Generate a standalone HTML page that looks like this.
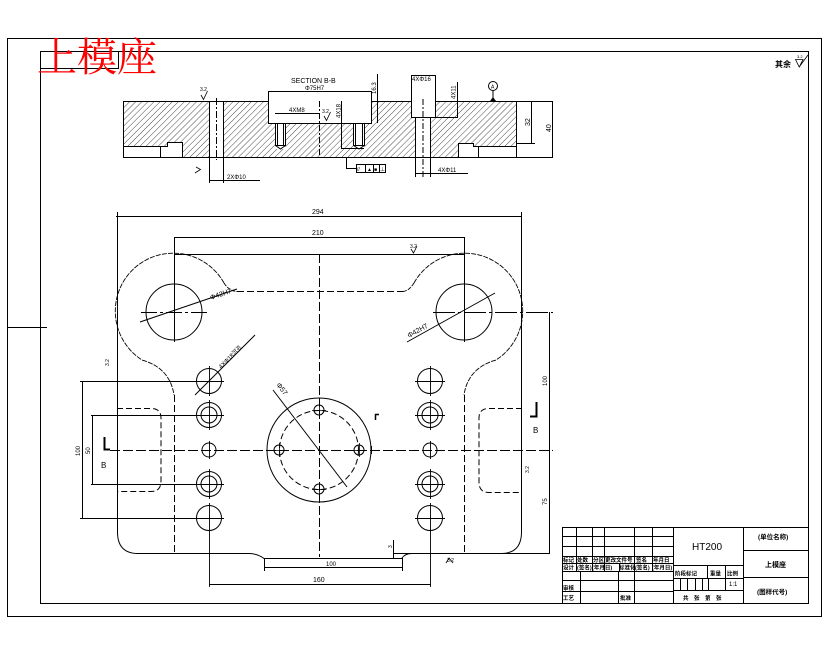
<!DOCTYPE html>
<html><head><meta charset="utf-8"><style>
html,body{margin:0;padding:0;background:#fff;}
svg{display:block}
text{font-family:"Liberation Sans","Noto Sans CJK SC",sans-serif;fill:#000;stroke:none}
.c{font-family:"Liberation Sans","Noto Sans CJK SC",sans-serif;font-weight:bold}
</style></head><body>
<svg width="830" height="654" viewBox="0 0 830 654" xmlns="http://www.w3.org/2000/svg">
<defs>
<pattern id="h" width="4.3" height="10" patternUnits="userSpaceOnUse" patternTransform="rotate(45)">
<line x1="0" y1="0" x2="0" y2="10" stroke="#000" stroke-width="0.7"/>
</pattern>
</defs>
<rect width="830" height="654" fill="#fff"/>

<!-- section hatch -->
<rect x="123" y="101" width="393" height="56" fill="url(#h)"/>
<g fill="#fff" stroke="none">
<rect x="123" y="146" width="44" height="12"/>
<rect x="167" y="142" width="15.5" height="16"/>
<rect x="209.5" y="100" width="14" height="58"/>
<rect x="268.5" y="100" width="103" height="23.5"/>
<rect x="275.5" y="123" width="10" height="26"/>
<rect x="353.5" y="123" width="11" height="26"/>
<rect x="411.5" y="100" width="24" height="17.5"/>
<rect x="415.5" y="117" width="15" height="41"/>
<rect x="458.5" y="143" width="15" height="15"/>
<rect x="473" y="146.5" width="44" height="11.5"/>
</g>

<g stroke="#000" fill="none" stroke-width="1">
<!-- frames -->
<rect x="7.5" y="38.5" width="814" height="578"/>
<rect x="40.5" y="51.5" width="768" height="552"/>
<rect x="40.5" y="51.5" width="78" height="17"/>
<line x1="7" y1="327.5" x2="47" y2="327.5"/>

<!-- section view outlines -->
<line x1="123" y1="101.5" x2="268" y2="101.5"/>
<line x1="371" y1="101.5" x2="411" y2="101.5"/>
<line x1="435" y1="101.5" x2="553" y2="101.5"/>
<line x1="123" y1="157.5" x2="553" y2="157.5"/>
<line x1="123.5" y1="101" x2="123.5" y2="158"/>
<line x1="516.5" y1="101" x2="516.5" y2="158"/>
<path d="M123,146.5 H167.5 V142.5 H182.5 V157"/>
<line x1="160.5" y1="146" x2="160.5" y2="157"/>
<path d="M458.5,157 V143.5 H473.5 V146.5 H516"/>
<line x1="478.5" y1="146" x2="478.5" y2="157"/>
<line x1="209.5" y1="101" x2="209.5" y2="183"/>
<line x1="223.5" y1="101" x2="223.5" y2="183"/>
<line x1="216.5" y1="98" x2="216.5" y2="160" stroke-dasharray="7 2 2 2"/>
<path d="M268.5,91 V123.5 H371.5 V91"/>
<line x1="268" y1="91.5" x2="372" y2="91.5"/>
<rect x="275.5" y="123.5" width="10" height="22"/>
<line x1="277.5" y1="124" x2="277.5" y2="145"/>
<line x1="283.5" y1="124" x2="283.5" y2="145"/>
<path d="M275.5,145.5 L280.5,149 L285.5,145.5"/>
<rect x="353.5" y="123.5" width="11" height="22"/>
<line x1="355.5" y1="124" x2="355.5" y2="145"/>
<line x1="362.5" y1="124" x2="362.5" y2="145"/>
<path d="M353.5,145.5 L359,149 L364.5,145.5"/>
<line x1="319.5" y1="101" x2="319.5" y2="158" stroke-dasharray="6 2 2 2"/>
<path d="M341.5,101 V148.5 H364"/>
<line x1="275" y1="113.5" x2="320" y2="113.5"/>
<line x1="377.5" y1="74" x2="377.5" y2="123"/>
<path d="M411.5,75 V117.5 H458"/>
<line x1="435.5" y1="75" x2="435.5" y2="117"/>
<line x1="411" y1="75.5" x2="436" y2="75.5"/>
<line x1="415.5" y1="117" x2="415.5" y2="177"/>
<line x1="430.5" y1="117" x2="430.5" y2="177"/>
<line x1="423" y1="99" x2="423" y2="177" stroke-dasharray="6 2 2 2"/>
<line x1="415" y1="173.5" x2="468" y2="173.5"/>
<line x1="457.5" y1="82" x2="457.5" y2="117"/>
<circle cx="493" cy="86" r="4.5"/>
<line x1="493" y1="90.5" x2="493" y2="98"/>
<line x1="516" y1="143.5" x2="535" y2="143.5"/>
<line x1="531.5" y1="101" x2="531.5" y2="143"/>
<line x1="552.5" y1="101" x2="552.5" y2="157"/>
<path d="M346.5,157 V168.5 H356"/>
<rect x="356.5" y="164.5" width="29" height="8"/>
<line x1="365.5" y1="164.5" x2="365.5" y2="172.5"/>
<line x1="373.5" y1="164.5" x2="373.5" y2="172.5"/>
<line x1="379.5" y1="164.5" x2="379.5" y2="172.5"/>
<line x1="209" y1="180.5" x2="260" y2="180.5"/>
<path d="M201,95 L203.5,99.5 L207.5,91" stroke-width="0.8"/>
<path d="M196,167 L200.5,169.5 L195,173" stroke-width="0.8"/>
<path d="M324,116 L326.5,120.5 L330.5,112" stroke-width="0.8"/>
</g>
<path d="M490,101 L496,101 L493,97 Z" fill="#000"/>

<!-- section texts -->
<text x="291" y="83" font-size="7">SECTION B-B</text>
<text x="305" y="90" font-size="6">Φ75H7</text>
<text x="289" y="112" font-size="6">4XM8</text>
<text transform="translate(340.5,118) rotate(-90)" font-size="6">4X18</text>
<text transform="translate(376,94) rotate(-90)" font-size="6">16.3</text>
<text x="412" y="81" font-size="6">4XΦ16</text>
<text x="438" y="172" font-size="6">4XΦ11</text>
<text transform="translate(455.5,99) rotate(-90)" font-size="6">4X11</text>
<text x="491" y="88.5" font-size="5">A</text>
<text transform="translate(530,126) rotate(-90)" font-size="7">32</text>
<text transform="translate(551,132) rotate(-90)" font-size="7">40</text>
<text x="227" y="179" font-size="6">2XΦ10</text>
<text x="200" y="91" font-size="5">3.2</text>
<text x="322" y="113" font-size="5">3.2</text>
<text x="357" y="171" font-size="5">//</text>
<text x="367" y="171" font-size="5">▲</text>
<text x="374" y="171" font-size="5">■</text>
<text x="380" y="171" font-size="5">⊥</text>

<!-- red title -->
<text x="37" y="71" font-size="40" style="fill:#f00;font-family:'Noto Serif CJK SC','Noto Sans CJK SC',serif">上模座</text>

<!-- plan view -->
<g stroke="#000" fill="none" stroke-width="1">
<line x1="116" y1="216.5" x2="522" y2="216.5"/>
<line x1="174" y1="237.5" x2="464" y2="237.5"/>
<line x1="117.5" y1="212" x2="117.5" y2="533"/>
<path d="M117.5,533 Q118,553 137,553.5"/>
<line x1="521.5" y1="212" x2="521.5" y2="533"/>
<path d="M521.5,533 Q521,553 502,553.5"/>
<line x1="174" y1="254.5" x2="464" y2="254.5"/>
<path d="M224,283 A58,58 0 1 0 142,360 Q170,368 174,395" stroke-width="0.9" stroke-dasharray="5 1.2"/>
<path d="M414,283 A58,58 0 1 1 496,360 Q468,368 464,395" stroke-width="0.9" stroke-dasharray="5 1.2"/>
<path d="M224,283 Q229,291 237,291.5" stroke-width="0.9" stroke-dasharray="4 1.2"/>
<path d="M414,283 Q409,291 403,291.5" stroke-width="0.9" stroke-dasharray="4 1.2"/>
<line x1="237" y1="291.5" x2="403" y2="291.5" stroke-dasharray="7 3"/>
<line x1="174.5" y1="395" x2="174.5" y2="553" stroke-dasharray="7 3"/>
<line x1="464.5" y1="395" x2="464.5" y2="553" stroke-dasharray="7 3"/>
<circle cx="174" cy="312" r="28"/>
<circle cx="464" cy="312" r="28"/>
<line x1="141" y1="312.5" x2="208" y2="312.5" stroke-dasharray="16 3 3 3"/>
<line x1="433" y1="312.5" x2="553" y2="312.5" stroke-dasharray="22 3 3 3"/>
<line x1="174.5" y1="237" x2="174.5" y2="342"/>
<line x1="464.5" y1="237" x2="464.5" y2="342"/>
<line x1="140" y1="322" x2="237" y2="289"/>
<line x1="407" y1="342" x2="495" y2="293"/>
<line x1="319.5" y1="254" x2="319.5" y2="557" stroke-dasharray="9 3"/>
<line x1="110" y1="450.5" x2="553" y2="450.5" stroke-dasharray="10 3"/>

<!-- hole columns -->
<circle cx="209" cy="381" r="12.5"/>
<circle cx="209" cy="415" r="12.5"/><circle cx="209" cy="415" r="8"/>
<circle cx="209" cy="450" r="7"/>
<circle cx="209" cy="484" r="12.5"/><circle cx="209" cy="484" r="8"/>
<circle cx="209" cy="518" r="12.5"/>
<circle cx="430" cy="381" r="12.5"/>
<circle cx="430" cy="415" r="12.5"/><circle cx="430" cy="415" r="8"/>
<circle cx="430" cy="450" r="7"/>
<circle cx="430" cy="484" r="12.5"/><circle cx="430" cy="484" r="8"/>
<circle cx="430" cy="518" r="12.5"/>
<g stroke-width="0.9">
<path d="M194,381.5H224M209.5,366V396M194,415.5H224M209.5,400V430M194,484.5H224M209.5,469V499M194,518.5H224M209.5,503V587"/>
<path d="M415,381.5H445M430.5,366V396M415,415.5H445M430.5,400V430M415,484.5H445M430.5,469V499M415,518.5H445M430.5,503V587"/>
<path d="M209.5,441V459M430.5,441V459"/>
</g>
<line x1="195" y1="395" x2="255" y2="335"/>

<!-- pockets -->
<path d="M117,408.5 H151 Q161,408.5 161,418 V481 Q161,491.5 151,491.5 H117" stroke-dasharray="6 3"/>
<path d="M522,408.5 H489 Q479,408.5 479,418 V482 Q479,492.5 489,492.5 H522" stroke-dasharray="6 3"/>

<!-- left dims -->
<line x1="80" y1="381.5" x2="197" y2="381.5"/>
<line x1="80" y1="518.5" x2="197" y2="518.5"/>
<line x1="82.5" y1="381" x2="82.5" y2="519"/>
<line x1="91" y1="415.5" x2="197" y2="415.5"/>
<line x1="91" y1="484.5" x2="197" y2="484.5"/>
<line x1="92.5" y1="415" x2="92.5" y2="485"/>

<!-- center flange -->
<circle cx="319" cy="450" r="52"/>
<circle cx="319" cy="450" r="39.5" stroke-dasharray="6 3"/>
<circle cx="279" cy="450" r="5"/>
<circle cx="359" cy="450" r="5"/>
<circle cx="319" cy="410" r="5"/>
<circle cx="319" cy="489" r="5"/>
<path d="M272,450.5H286M279.5,443V457M352,450.5H366M359.5,443V457M312,410.5H326M319.5,403V417M312,489.5H326M319.5,482V496" stroke-width="0.8"/>
<line x1="273" y1="390" x2="347" y2="487"/>
<line x1="371.5" y1="446" x2="371.5" y2="454"/>
<path d="M375.5,420 V414.5 H379" stroke-width="1.5"/>

<!-- bottom edge -->
<line x1="137" y1="553.5" x2="250" y2="553.5"/>
<path d="M250,553.5 Q258,554 264,558.5 H402"/>
<path d="M402,558 Q405,553.5 412,553.5"/>
<line x1="393" y1="553.5" x2="550" y2="553.5"/>
<line x1="264.5" y1="558" x2="264.5" y2="571"/>
<line x1="402.5" y1="558" x2="402.5" y2="571"/>
<line x1="264" y1="567.5" x2="403" y2="567.5"/>
<line x1="393.5" y1="540" x2="393.5" y2="558"/>
<line x1="209" y1="584.5" x2="431" y2="584.5"/>
<line x1="549.5" y1="312" x2="549.5" y2="554"/>
</g>

<!-- section markers -->
<path d="M104.5,437 V449.5 H110" stroke="#000" stroke-width="2" fill="none"/>
<path d="M536.5,402 V416.5 H530" stroke="#000" stroke-width="2" fill="none"/>

<!-- plan texts -->
<text x="312" y="214" font-size="7">294</text>
<text x="312" y="235" font-size="7">210</text>
<text transform="translate(211,300) rotate(-19)" font-size="7">Φ42H7</text>
<text transform="translate(409,338) rotate(-29)" font-size="7">Φ42H7</text>
<text transform="translate(221,369) rotate(-45)" font-size="6">4XΦ18沉孔</text>
<text transform="translate(276,385) rotate(52)" font-size="7">Φ57</text>
<text transform="translate(80,456) rotate(-90)" font-size="6">100</text>
<text transform="translate(90,454) rotate(-90)" font-size="6">50</text>
<text x="101" y="468" font-size="8">B</text>
<text x="533" y="433" font-size="8">B</text>
<text x="326" y="566" font-size="6">100</text>
<text x="313" y="582" font-size="7">160</text>
<text transform="translate(547,386) rotate(-90)" font-size="6">100</text>
<text transform="translate(547,505) rotate(-90)" font-size="6">75</text>
<text transform="translate(392,548) rotate(-90)" font-size="5">3</text>
<text x="410" y="248" font-size="5">3.2</text>
<path d="M411,249 L413.5,253 L417,246" stroke="#000" fill="none" stroke-width="0.8"/>
<text transform="translate(109,366) rotate(-90)" font-size="5">3.2</text>
<text transform="translate(529,473) rotate(-90)" font-size="5">3.2</text>
<text x="447" y="562" font-size="5">3.2</text>
<path d="M446,563 L449,558 L453,563" stroke="#000" fill="none" stroke-width="0.8"/>

<!-- top right -->
<text x="775" y="67" font-size="8" class="c">其余</text>
<path d="M795.5,59.5 H803 L799.2,67 Z M799.2,67 L808,55" stroke="#000" fill="none" stroke-width="0.8"/>
<text x="797" y="58" font-size="4">3.2</text>

<!-- title block -->
<g stroke="#000" fill="none" stroke-width="1">
<rect x="562.5" y="527.5" width="246" height="76"/>
<line x1="673.5" y1="527" x2="673.5" y2="603"/>
<line x1="743.5" y1="527" x2="743.5" y2="603"/>
<line x1="562" y1="536.5" x2="673" y2="536.5"/>
<line x1="562" y1="546.5" x2="673" y2="546.5"/>
<line x1="562" y1="556.5" x2="673" y2="556.5"/>
<line x1="562" y1="563.5" x2="673" y2="563.5"/>
<line x1="562" y1="571.5" x2="673" y2="571.5"/>
<line x1="562" y1="580.5" x2="673" y2="580.5"/>
<line x1="562" y1="591.5" x2="673" y2="591.5"/>
<path d="M576.5,527V571M592.5,527V571M604.5,527V571M634.5,527V571M652.5,527V571M619.5,563V571"/>
<path d="M580.5,571V603M618.5,571V603M634.5,571V603"/>
<line x1="673" y1="565.5" x2="743" y2="565.5"/>
<line x1="673" y1="578.5" x2="743" y2="578.5"/>
<line x1="673" y1="590.5" x2="743" y2="590.5"/>
<path d="M707.5,565V578M725.5,565V590M680.5,578V590M687.5,578V590M695.5,578V590M702.5,578V590M708.5,578V590"/>
<line x1="743" y1="550.5" x2="809" y2="550.5"/>
<line x1="743" y1="577.5" x2="809" y2="577.5"/>
</g>
<g font-size="5.5" class="c">
<text x="563" y="562">标记</text>
<text x="577" y="562">处数</text>
<text x="593" y="562">分区</text>
<text x="605" y="562">更改文件号</text>
<text x="636" y="562">签名</text>
<text x="653" y="562">年月日</text>
<text x="563" y="569.5">设计</text>
<text x="577" y="569.5">(签名)</text>
<text x="592" y="569.5">(年月日)</text>
<text x="619" y="569.5">标准化</text>
<text x="635" y="569.5">(签名)</text>
<text x="652" y="569.5">(年月日)</text>
<text x="563" y="590">审核</text>
<text x="563" y="600">工艺</text>
<text x="620" y="600">批准</text>
<text x="675" y="575.5">阶段标记</text>
<text x="710" y="575.5">重量</text>
<text x="727" y="575.5">比例</text>
<text x="683" y="600">共　张　第　张</text>
</g>
<text x="729" y="586" font-size="6">1:1</text>
<text x="692" y="550" font-size="10">HT200</text>
<text x="758" y="539" font-size="6.5" class="c">(单位名称)</text>
<text x="765" y="567" font-size="7" class="c">上模座</text>
<text x="757" y="594" font-size="6.5" class="c">(图样代号)</text>
</svg>
</body></html>
